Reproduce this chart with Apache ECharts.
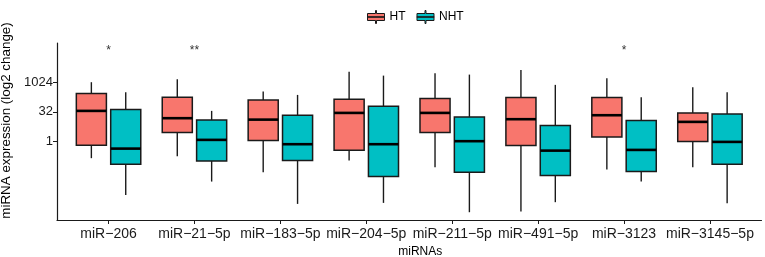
<!DOCTYPE html>
<html>
<head>
<meta charset="utf-8">
<script src="https://cdn.jsdelivr.net/npm/echarts@6/dist/echarts.min.js"></script>
<style>
html, body { margin: 0; padding: 0; background: #fff; }
#chart { width: 765px; height: 257px; }
</style>
</head>
<body>
<div id="chart"></div>
<script>
const categories = ['miR−206', 'miR−21−5p', 'miR−183−5p', 'miR−204−5p', 'miR−211−5p', 'miR−491−5p', 'miR−3123', 'miR−3145−5p']
// log2 values: [low, q1, median, q3, high]
const htBoxes = [
  [-2.79, -0.61, 5.17, 8.08, 10.0],
  [-2.46, 1.52, 3.94, 7.47, 10.5],
  [-5.15, 0.17, 3.70, 7.02, 8.42],
  [-3.20, -1.45, 4.83, 7.14, 11.78],
  [-4.31, 1.52, 4.83, 7.24, 11.5],
  [-11.78, -0.67, 3.77, 7.41, 12.07],
  [-4.71, 0.79, 4.44, 7.41, 10.67],
  [-4.31, 0.0, 3.32, 4.83, 9.16]
]
const nhtBoxes = [
  [-8.97, -3.80, -1.18, 5.39, 8.32],
  [-6.73, -3.25, 0.29, 3.65, 5.17],
  [-10.49, -3.20, -0.44, 4.44, 7.86],
  [-10.32, -5.89, -0.44, 5.96, 11.11],
  [-11.89, -5.15, 0.07, 4.16, 11.28],
  [-10.2, -5.72, -1.52, 2.69, 9.55],
  [-6.73, -5.05, -1.40, 3.54, 7.47],
  [-10.37, -3.80, -0.05, 4.66, 8.32]
]
const sigMarks = ['*', '**', '', '', '', '', '*', '']
const sigLevel = 15.3
const yTicks = [0, 5, 10]
const xTicks = categories.map((c, i) => i)

const ink = '#1a1a1a'

function boxItem(dodge) {
  return function (params, api) {
    const i = api.value(0)
    const band = api.size([1, 0])[0]
    const cx = api.coord([i, 0])[0] + dodge * band
    const half = 0.175 * band
    const py = k => api.coord([i, api.value(k)])[1]
    const lo = py(1), q1 = py(2), md = py(3), q3 = py(4), hi = py(5)
    const line = { stroke: ink, lineWidth: 1.4 }
    return {
      type: 'group',
      children: [
        { type: 'line', shape: { x1: cx, y1: hi, x2: cx, y2: q3 }, style: line },
        { type: 'line', shape: { x1: cx, y1: q1, x2: cx, y2: lo }, style: line },
        { type: 'rect', shape: { x: cx - half, y: q3, width: 2 * half, height: q1 - q3 },
          style: { fill: api.visual('color'), stroke: ink, lineWidth: 1.5 } },
        { type: 'line', shape: { x1: cx - half, y1: md, x2: cx + half, y2: md },
          style: { stroke: '#000', lineWidth: 2.6 } }
      ]
    }
  }
}

const legendIcon = 'path://M8,0L9,0L9,3L17,3L17,10L9,10L9,13L8,13L8,10L0,10L0,3L8,3Z M0,6.2L17,6.2L17,6.8L0,6.8Z'

let mycharts = echarts.init(document.getElementById('chart'))
let option = {
  animation: false,
  textStyle: { fontFamily: 'Liberation Sans, Arial, sans-serif' },
  legend: {
    top: 5,
    left: 362,
    icon: legendIcon,
    itemWidth: 17,
    itemHeight: 13,
    itemGap: 11,
    itemStyle: { borderColor: ink, borderWidth: 1 },
    textStyle: { fontSize: 12, color: '#000' },
    data: ['HT', 'NHT']
  },
  grid: { left: 57, right: 3.5, top: 43, bottom: 37, outerBoundsMode: 'none' },
  xAxis: {
    type: 'value',
    min: -0.6,
    max: 7.6,
    name: 'miRNAs',
    nameLocation: 'middle',
    nameGap: 24,
    nameTextStyle: { fontSize: 12, color: '#000', padding: [0, 0, 0, 22] },
    splitLine: { show: false },
    axisLine: { onZero: false, lineStyle: { color: ink, width: 1.2 } },
    axisTick: { customValues: xTicks, length: 4, lineStyle: { color: ink } },
    axisLabel: {
      customValues: xTicks,
      fontSize: 14,
      color: '#1a1a1a',
      margin: 7,
      formatter: v => categories[v]
    }
  },
  yAxis: {
    type: 'value',
    min: -13.2,
    max: 16.6,
    name: 'miRNA expression (log2 change)',
    nameLocation: 'middle',
    nameGap: 41,
    nameTextStyle: { fontSize: 13.4, color: '#000', padding: [0, 0, 0, 22] },
    splitLine: { show: false },
    axisLine: { show: true, onZero: false, lineStyle: { color: ink, width: 1.2 } },
    axisTick: { show: true, customValues: yTicks, length: 4, lineStyle: { color: ink } },
    axisLabel: {
      customValues: yTicks,
      fontSize: 13,
      color: '#1a1a1a',
      margin: 4,
      formatter: v => String(Math.pow(2, v))
    }
  },
  series: [
    {
      name: 'HT',
      type: 'custom',
      itemStyle: { color: '#F8766D' },
      encode: { x: 0, y: [1, 2, 3, 4, 5] },
      data: htBoxes.map((b, i) => [i].concat(b)),
      renderItem: boxItem(-0.2)
    },
    {
      name: 'NHT',
      type: 'custom',
      itemStyle: { color: '#00BFC4' },
      encode: { x: 0, y: [1, 2, 3, 4, 5] },
      data: nhtBoxes.map((b, i) => [i].concat(b)),
      renderItem: boxItem(0.2)
    },
    {
      name: 'sig',
      type: 'custom',
      encode: { x: 0, y: 1 },
      data: sigMarks.map((s, i) => [i, sigLevel]).filter((d, i) => sigMarks[i]),
      renderItem: function (params, api) {
        const p = api.coord([api.value(0), api.value(1)])
        return {
          type: 'text',
          x: p[0],
          y: p[1],
          style: {
            text: sigMarks[api.value(0)],
            fontSize: 12,
            fill: '#333',
            align: 'center',
            verticalAlign: 'middle'
          }
        }
      }
    }
  ]
}
mycharts.setOption(option)
window.addEventListener('resize', function() {
  mycharts.resize()
})
</script>
</body>
</html>
